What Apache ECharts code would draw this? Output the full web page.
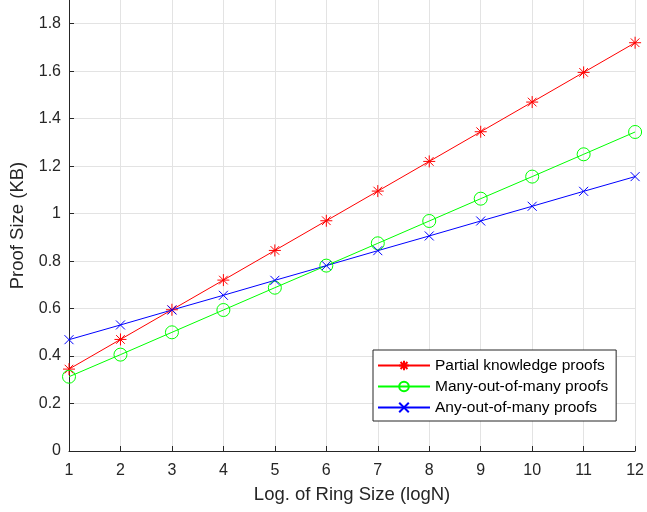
<!DOCTYPE html>
<html><head><meta charset="utf-8">
<script src="https://cdn.jsdelivr.net/npm/echarts@6/dist/echarts.min.js"></script>
<style>html,body{margin:0;padding:0;background:#fff}#c{width:647px;height:512px}</style>
</head><body><div id="c"></div>
<script>
const xValues = [1,2,3,4,5,6,7,8,9,10,11,12];
const partialKnowledge = [0.345,0.470,0.595,0.720,0.845,0.970,1.095,1.220,1.345,1.470,1.595,1.720];
const manyOutOfMany   = [0.313,0.406,0.500,0.594,0.688,0.781,0.875,0.969,1.063,1.156,1.250,1.344];
const anyOutOfMany    = [0.469,0.531,0.594,0.656,0.719,0.781,0.844,0.906,0.969,1.031,1.094,1.156];
const seriesNames = ['Partial knowledge proofs','Many-out-of-many proofs','Any-out-of-many proofs'];
const yTickLabels = ['0','0.2','0.4','0.6','0.8','1','1.2','1.4','1.6','1.8'];

const asterisk = 'path://M0,-1L0,1M-1,0L1,0M-0.72,-0.72L0.72,0.72M-0.72,0.72L0.72,-0.72';
const cross = 'path://M-1,-1L1,1M-1,1L1,-1';
const axisCol = '#262626';
const font = 'Liberation Sans, Arial, Helvetica, sans-serif';

function pairs(arr){ return xValues.map((x,i)=>[x,arr[i]]); }

const chart = echarts.init(document.getElementById('c'), null, {renderer:'canvas'});
chart.setOption({
  animation:false,
  backgroundColor:'#fff',
  grid:{left:69,right:10,top:0,bottom:61,containLabel:false},
  xAxis:{
    type:'value',min:1,max:12,interval:1,
    name:'Log. of Ring Size (logN)',nameLocation:'middle',nameGap:34,
    nameTextStyle:{color:axisCol,fontSize:18.5,fontFamily:font},
    axisLine:{show:true,lineStyle:{color:axisCol,width:1}},
    axisTick:{show:true,inside:true,length:5,lineStyle:{color:axisCol}},
    axisLabel:{color:axisCol,fontSize:16,fontFamily:font,margin:12},
    splitLine:{show:true,lineStyle:{color:'#e3e3e3',width:1}}
  },
  yAxis:{
    type:'value',min:0,max:1.9,interval:0.2,
    name:'Proof Size (KB)',nameLocation:'middle',nameGap:41,
    nameTextStyle:{color:axisCol,fontSize:18.5,fontFamily:font},
    axisLine:{show:true,lineStyle:{color:axisCol,width:1}},
    axisTick:{show:true,inside:true,length:5,lineStyle:{color:axisCol}},
    axisLabel:{color:axisCol,fontSize:16,fontFamily:font,margin:8,showMaxLabel:false,
      formatter:function(v){const i=Math.round(v/0.2); return Math.abs(v-i*0.2)<1e-6 && i<yTickLabels.length ? yTickLabels[i] : '';}},
    splitLine:{show:true,showMaxLine:false,lineStyle:{color:'#e3e3e3',width:1}}
  },
  legend:{
    orient:'vertical',left:373,top:350,
    backgroundColor:'#fff',borderColor:axisCol,borderWidth:1,borderRadius:0,
    padding:[7,8,5,4],itemGap:4,itemWidth:52,itemHeight:12,
    textStyle:{color:'#000',fontSize:15.5,fontFamily:font,lineHeight:17},
    data:seriesNames
  },
  series:[
    {name:seriesNames[0],type:'line',data:pairs(partialKnowledge),symbol:asterisk,symbolSize:12,
     lineStyle:{color:'#ff0000',width:1},itemStyle:{color:'#ff0000',borderColor:'#ff0000',borderWidth:1}},
    {name:seriesNames[1],type:'line',data:pairs(manyOutOfMany),symbol:'circle',symbolSize:13,
     lineStyle:{color:'#00ff00',width:1},itemStyle:{color:'rgba(0,0,0,0)',borderColor:'#00ff00',borderWidth:1}},
    {name:seriesNames[2],type:'line',data:pairs(anyOutOfMany),symbol:cross,symbolSize:9,
     lineStyle:{color:'#0000ff',width:1},itemStyle:{color:'#0000ff',borderColor:'#0000ff',borderWidth:1}}
  ]
});
</script></body></html>
